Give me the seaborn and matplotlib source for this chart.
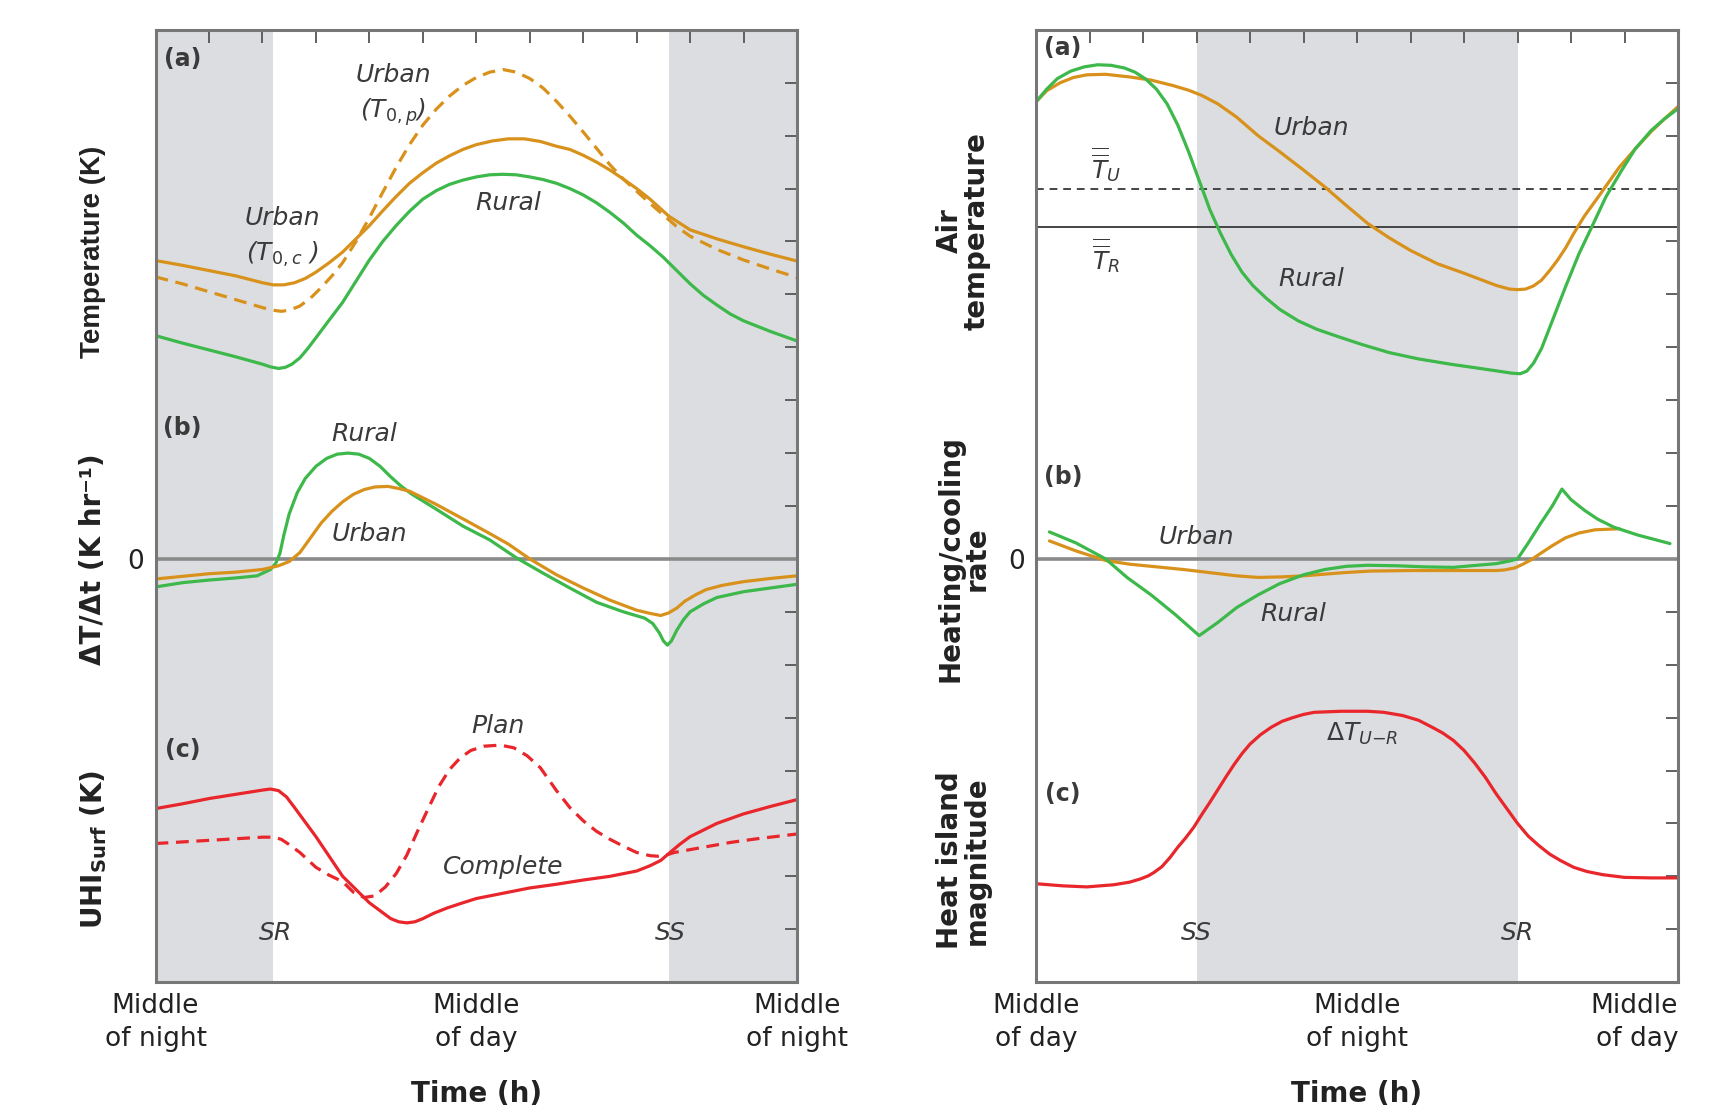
import matplotlib
matplotlib.use("Agg")
import matplotlib.pyplot as plt
import matplotlib.transforms as mtransforms
import seaborn as sns

# ---------------- left figure: surface UHI (night -> day -> night) ----------------
night_l = [(0, 4.4), (19.2, 24)]          # shaded night periods (h)

# (a) surface temperature
a_urb_c_h = [0, 1, 2, 3, 4, 4.4, 4.8, 5.2, 5.6, 6, 6.5, 7, 7.5, 8, 8.5, 9, 9.5, 10, 10.5, 11, 11.5, 12, 12.6, 13.2, 13.8, 14.4, 15, 15.5, 16, 16.5, 17, 17.5, 18, 18.5, 19.2, 20, 21, 22, 23, 24]
a_urb_c_v = [5.64, 5.55, 5.45, 5.35, 5.22, 5.18, 5.18, 5.22, 5.3, 5.42, 5.6, 5.8, 6.05, 6.3, 6.58, 6.85, 7.1, 7.3, 7.48, 7.62, 7.74, 7.83, 7.9, 7.94, 7.94, 7.89, 7.8, 7.74, 7.63, 7.5, 7.35, 7.18, 7.0, 6.8, 6.48, 6.22, 6.05, 5.9, 5.76, 5.63]
a_urb_p_h = [0, 1, 2, 3, 4, 4.4, 4.7, 5.0, 5.4, 5.8, 6.2, 6.6, 7, 7.5, 8, 8.5, 9, 9.5, 10, 10.5, 11, 11.5, 12, 12.5, 13, 13.5, 14, 14.5, 15, 15.5, 16, 16.5, 17, 17.5, 18, 18.5, 19, 19.5, 20, 21, 22, 23, 24]
a_urb_p_v = [5.33, 5.2, 5.05, 4.9, 4.75, 4.7, 4.68, 4.7, 4.78, 4.93, 5.13, 5.35, 5.6, 6.0, 6.45, 6.93, 7.4, 7.83, 8.2, 8.5, 8.75, 8.95, 9.1, 9.2, 9.25, 9.2, 9.08, 8.9, 8.65, 8.37, 8.07, 7.76, 7.45, 7.18, 6.95, 6.72, 6.5, 6.28, 6.1, 5.85, 5.65, 5.48, 5.32]
a_rur_h = [0, 1, 2, 3, 4, 4.3, 4.6, 4.85, 5.1, 5.4, 5.7, 6.0, 6.4, 7, 7.5, 8, 8.5, 9, 9.5, 10, 10.5, 11, 11.5, 12, 12.5, 13, 13.5, 14, 14.5, 15, 15.5, 16, 16.5, 17, 17.5, 18, 18.5, 19, 19.5, 20, 20.5, 21, 21.5, 22, 23, 24]
a_rur_v = [4.22, 4.08, 3.95, 3.82, 3.68, 3.63, 3.6, 3.62, 3.68, 3.8, 3.98, 4.18, 4.45, 4.85, 5.25, 5.65, 6.0, 6.3, 6.57, 6.8, 6.96, 7.08, 7.16, 7.22, 7.26, 7.27, 7.26, 7.22, 7.17, 7.1, 7.0, 6.88, 6.73, 6.55, 6.35, 6.12, 5.92, 5.7, 5.45, 5.2, 4.98, 4.8, 4.63, 4.5, 4.3, 4.12]

# (b) heating / cooling rate
b_rur_h = [0, 1, 2, 3, 3.8, 4.3, 4.5, 4.65, 4.8, 5.0, 5.3, 5.6, 6.0, 6.4, 6.8, 7.2, 7.6, 8.0, 8.4, 8.8, 9.2, 9.6, 10.5, 11.5, 12.5, 13.5, 14.5, 15.5, 16.5, 17.5, 18.3, 18.6, 18.85, 19.0, 19.15, 19.3, 19.5, 19.75, 20.0, 20.5, 21.0, 22.0, 23.0, 24]
b_rur_v = [-0.53, -0.45, -0.4, -0.36, -0.32, -0.2, -0.08, 0.1, 0.45, 0.85, 1.25, 1.52, 1.75, 1.9, 1.98, 2.0, 1.98, 1.9, 1.75, 1.55, 1.37, 1.22, 0.94, 0.62, 0.36, 0.02, -0.27, -0.55, -0.82, -1.0, -1.12, -1.22, -1.4, -1.55, -1.63, -1.55, -1.35, -1.15, -1.0, -0.85, -0.73, -0.62, -0.55, -0.48]
b_urb_h = [0, 1, 2, 3, 4, 4.6, 5.0, 5.4, 5.8, 6.2, 6.6, 7.0, 7.4, 7.8, 8.2, 8.7, 9.1, 9.5, 10.5, 11.6, 12.5, 13.2, 14.0, 15.0, 16.0, 17.0, 18.0, 18.5, 18.9, 19.2, 19.5, 19.8, 20.2, 20.6, 21.2, 22.0, 23.0, 24]
b_urb_v = [-0.38, -0.33, -0.28, -0.25, -0.2, -0.13, -0.05, 0.12, 0.4, 0.68, 0.9, 1.08, 1.22, 1.31, 1.36, 1.37, 1.33, 1.28, 1.03, 0.73, 0.48, 0.28, 0.0, -0.3, -0.55, -0.78, -0.97, -1.03, -1.07, -1.02, -0.93, -0.8, -0.68, -0.58, -0.5, -0.43, -0.37, -0.32]

# (c) surface UHI
c_cmp_h = [0, 1, 2, 3, 4, 4.3, 4.6, 4.9, 5.2, 6, 7, 8, 8.8, 9.1, 9.4, 9.7, 10, 10.4, 10.9, 11.5, 12, 13, 14, 15, 16, 17, 18, 18.5, 18.9, 19.2, 19.6, 20, 21, 22, 23, 24]
c_cmp_v = [-4.72, -4.63, -4.53, -4.45, -4.37, -4.35, -4.38, -4.5, -4.7, -5.25, -6.0, -6.5, -6.8, -6.86, -6.88, -6.86, -6.8, -6.7, -6.6, -6.5, -6.42, -6.32, -6.22, -6.15, -6.07, -6.0, -5.9, -5.8, -5.7, -5.57, -5.4, -5.25, -5.0, -4.82, -4.68, -4.55]
c_plan_h = [0, 1, 2, 3, 4, 4.4, 4.7, 5.0, 5.4, 6.0, 6.5, 7.0, 7.4, 7.8, 8.2, 8.6, 9.0, 9.4, 9.8, 10.2, 10.6, 11.0, 11.4, 11.8, 12.3, 12.9, 13.4, 13.9, 14.4, 15.0, 15.5, 16.0, 16.5, 17.0, 17.5, 18.0, 18.5, 18.8, 19.1, 19.4, 20.5, 21.5, 22.5, 24]
c_plan_v = [-5.38, -5.35, -5.32, -5.29, -5.26, -5.26, -5.3, -5.4, -5.55, -5.83, -5.98, -6.1, -6.3, -6.4, -6.37, -6.2, -5.95, -5.6, -5.15, -4.72, -4.3, -3.98, -3.76, -3.62, -3.54, -3.52, -3.57, -3.72, -3.95, -4.38, -4.7, -4.95, -5.15, -5.3, -5.43, -5.55, -5.61, -5.62, -5.6, -5.55, -5.45, -5.36, -5.29, -5.2]

# ---------------- right figure: canopy UHI (day -> night -> day) ----------------
night_r = [(6.0, 18.0)]
t_urban_mean = 7.0
t_rural_mean = 6.27

r_urb_h = [0, 0.4, 0.9, 1.4, 1.9, 2.6, 3.5, 4.3, 5.1, 5.7, 6.2, 6.8, 7.5, 8.3, 9.1, 10, 10.8, 11.6, 12.4, 13.2, 14, 15, 16, 17.2, 17.7, 18.0, 18.3, 18.6, 18.9, 19.2, 19.5, 19.8, 20.1, 20.5, 21.1, 21.8, 22.4, 23, 23.5, 24]
r_urb_v = [8.64, 8.85, 9.0, 9.1, 9.15, 9.16, 9.11, 9.05, 8.95, 8.86, 8.76, 8.6, 8.35, 8.0, 7.7, 7.35, 7.03, 6.68, 6.34, 6.07, 5.83, 5.58, 5.4, 5.17, 5.1, 5.09, 5.1, 5.16, 5.27, 5.45, 5.65, 5.88, 6.15, 6.48, 6.9, 7.4, 7.75, 8.08, 8.32, 8.55]
r_rur_h = [0, 0.4, 0.8, 1.3, 1.8, 2.3, 2.8, 3.3, 3.7, 4.1, 4.5, 4.9, 5.3, 5.7, 6.1, 6.5, 6.9, 7.3, 7.7, 8.1, 8.6, 9.1, 9.8, 10.5, 11.3, 12.2, 13.2, 14.3, 15.5, 16.6, 17.4, 17.8, 18.1, 18.35, 18.6, 18.9, 19.3, 19.8, 20.3, 20.8, 21.3, 21.9, 22.4, 23, 23.5, 24]
r_rur_v = [8.64, 8.88, 9.08, 9.22, 9.3, 9.34, 9.33, 9.28, 9.2, 9.07, 8.88, 8.6, 8.2, 7.7, 7.15, 6.6, 6.15, 5.75, 5.42, 5.17, 4.93, 4.72, 4.5, 4.34, 4.2, 4.05, 3.9, 3.78, 3.68, 3.6, 3.54, 3.51, 3.5, 3.55, 3.7, 3.98, 4.5, 5.15, 5.77, 6.3, 6.84, 7.35, 7.75, 8.1, 8.32, 8.51]

rb_rur_h = [0.5, 1.5, 2.6, 3.4, 4.3, 5.2, 6.1, 6.8, 7.5, 8.3, 9.1, 10, 10.8, 11.6, 12.4, 13.5, 14.5, 15.6, 16.5, 17.2, 17.7, 18.0, 18.4, 18.85, 19.3, 19.66, 20.0, 20.5, 21.0, 21.6, 22.5, 23.7]
rb_rur_v = [0.51, 0.3, 0.0, -0.35, -0.68, -1.05, -1.45, -1.2, -0.92, -0.68, -0.47, -0.3, -0.2, -0.14, -0.12, -0.13, -0.15, -0.16, -0.12, -0.09, -0.04, 0.0, 0.3, 0.66, 1.0, 1.32, 1.12, 0.92, 0.75, 0.6, 0.45, 0.29]
rb_urb_h = [0.5, 1.5, 2.6, 3.5, 4.5, 5.5, 6.5, 7.5, 8.3, 9.2, 10, 10.75, 11.5, 12.5, 14, 15.5, 17.2, 17.5, 17.9, 18.2, 18.5, 18.85, 19.3, 19.8, 20.3, 20.9, 21.8]
rb_urb_v = [0.34, 0.15, -0.03, -0.1, -0.15, -0.2, -0.26, -0.32, -0.35, -0.34, -0.32, -0.29, -0.26, -0.23, -0.22, -0.22, -0.22, -0.21, -0.17, -0.1, -0.02, 0.1, 0.25, 0.4, 0.49, 0.55, 0.57]

rc_h = [0, 1, 1.9, 2.9, 3.5, 3.9, 4.2, 4.4, 4.7, 5.0, 5.3, 5.6, 5.9, 6.2, 6.5, 6.8, 7.1, 7.4, 7.7, 8.0, 8.4, 8.8, 9.2, 9.6, 10.0, 10.4, 11.4, 12.4, 13, 13.7, 14.3, 14.8, 15.2, 15.6, 16.0, 16.4, 16.8, 17.2, 17.6, 18.0, 18.4, 18.8, 19.2, 19.6, 20.1, 20.6, 21.2, 22, 23, 24]
rc_v = [-6.14, -6.18, -6.2, -6.16, -6.11, -6.05, -5.99, -5.93, -5.82, -5.65, -5.45, -5.27, -5.07, -4.83, -4.6, -4.36, -4.12, -3.89, -3.68, -3.5, -3.32, -3.18, -3.07, -3.0, -2.94, -2.9, -2.88, -2.88, -2.9, -2.96, -3.05, -3.18, -3.29, -3.43, -3.62, -3.86, -4.13, -4.44, -4.72, -5.0, -5.24, -5.42, -5.58, -5.7, -5.83, -5.91, -5.97, -6.02, -6.03, -6.03]

xlabels_l = ["Middle\nof night", "Middle\nof day", "Middle\nof night"]
xlabels_r = ["Middle\nof day", "Middle\nof night", "Middle\nof day"]

ORANGE = "#D8921C"
GREEN = "#3DB84A"
RED = "#E8262B"
SHADE = "#DCDDE0"
TXT = "#3a3a3a"

sns.set_theme(style="white")
plt.rcParams["font.family"] = ["DejaVu Sans"]
plt.rcParams["mathtext.fontset"] = "dejavusans"

fig = plt.figure(figsize=(17.17, 11.06), dpi=100)
ax_l = fig.add_axes([0.0906, 0.112, 0.3736, 0.861])
ax_r = fig.add_axes([0.6034, 0.112, 0.3739, 0.861])


def curve(ax, h, v, color, dashed=False):
    sns.lineplot(x=h, y=v, ax=ax, color=color, lw=2.3, errorbar=None)
    line = ax.lines[-1]
    line.set_solid_joinstyle("round")
    if dashed:
        line.set_dashes((4, 2.4))


def style_axes(ax, night, xlabels):
    for lo, hi in night:
        ax.axvspan(lo, hi, color=SHADE, lw=0, zorder=0)
    ax.axhline(0, color="#8a8a8a", lw=2.6, zorder=1)
    ax.set_xlim(0, 24)
    ax.set_ylim(-8, 10)
    ax.set_xticks(range(0, 25, 2))
    xl = [""] * 13
    xl[0], xl[6], xl[12] = xlabels
    ax.set_xticklabels(xl, fontsize=19, color="#222", linespacing=1.35)
    ax.set_yticks(range(-7, 10))
    ax.set_yticklabels(["0" if t == 0 else "" for t in range(-7, 10)], fontsize=19, color="#222")
    ax.tick_params(axis="both", direction="in", top=True, right=True, length=9, width=1.3,
                   color="#555", pad=8)
    for s in ax.spines.values():
        s.set_color("#777")
        s.set_linewidth(2.2)
    ax.set_xlabel("Time (h)", fontsize=20, fontweight="bold", labelpad=20, color="#222")
    ax.set_ylabel("")


# ---- left ----
style_axes(ax_l, night_l, xlabels_l)
curve(ax_l, a_urb_p_h, a_urb_p_v, ORANGE, dashed=True)
curve(ax_l, a_urb_c_h, a_urb_c_v, ORANGE)
curve(ax_l, a_rur_h, a_rur_v, GREEN)
curve(ax_l, b_rur_h, b_rur_v, GREEN)
curve(ax_l, b_urb_h, b_urb_v, ORANGE)
curve(ax_l, c_plan_h, c_plan_v, RED, dashed=True)
curve(ax_l, c_cmp_h, c_cmp_v, RED)

lab = dict(fontsize=18, style="italic", color=TXT, ha="center", va="center")
pan = dict(fontsize=17, fontweight="bold", color=TXT, ha="center", va="center")
ax_l.text(1.0, 9.45, "(a)", **pan)
ax_l.text(1.0, 2.48, "(b)", **pan)
ax_l.text(1.0, -3.62, "(c)", **pan)
ax_l.text(8.9, 9.15, "Urban", **lab)
ax_l.text(8.9, 8.45, r"($T_{0,p}$)", **lab)
ax_l.text(4.75, 6.45, "Urban", **lab)
ax_l.text(4.75, 5.75, r"($T_{0,c}$ )", **lab)
ax_l.text(13.2, 6.73, "Rural", **lab)
ax_l.text(7.8, 2.36, "Rural", **lab)
ax_l.text(8.0, 0.48, "Urban", **lab)
ax_l.text(12.8, -3.15, "Plan", **lab)
ax_l.text(13.0, -5.82, "Complete", **lab)
ax_l.text(4.5, -7.08, "SR", **lab)
ax_l.text(19.25, -7.08, "SS", **lab)

ylab = dict(fontsize=20, fontweight="bold", color="#222", rotation=90, ha="center", va="center",
            linespacing=0.95)
tl = mtransforms.blended_transform_factory(ax_l.transAxes, ax_l.transData)
ax_l.text(-0.097, 5.8, "Temperature (K)", transform=tl, family=["Liberation Sans", "DejaVu Sans"], **ylab)
ax_l.text(-0.097, 0.0, "ΔT/Δt (K hr⁻¹)", transform=tl, **ylab)
ax_l.text(-0.097, -5.5, r"UHI$_{\mathbf{Surf}}$ (K)", transform=tl, **ylab)

# ---- right ----
style_axes(ax_r, night_r, xlabels_r)
ax_r.get_xticklabels()[-1].set_horizontalalignment("right")
ax_r.axhline(t_urban_mean, color="#444", lw=1.4, dashes=(4, 3), zorder=1)
ax_r.axhline(t_rural_mean, color="#444", lw=1.4, zorder=1)
curve(ax_r, r_urb_h, r_urb_v, ORANGE)
curve(ax_r, r_rur_h, r_rur_v, GREEN)
curve(ax_r, rb_urb_h, rb_urb_v, ORANGE)
curve(ax_r, rb_rur_h, rb_rur_v, GREEN)
curve(ax_r, rc_h, rc_v, RED)

ax_r.text(1.0, 9.65, "(a)", **pan)
ax_r.text(1.0, 1.55, "(b)", **pan)
ax_r.text(1.0, -4.45, "(c)", **pan)
ax_r.text(10.3, 8.15, "Urban", **lab)
ax_r.text(10.3, 5.3, "Rural", **lab)
ax_r.text(2.6, 7.45, r"$\overline{\overline{T}}_U$", **lab)
ax_r.text(2.6, 5.73, r"$\overline{\overline{T}}_R$", **lab)
ax_r.text(6.0, 0.41, "Urban", **lab)
ax_r.text(9.6, -1.04, "Rural", **lab)
ax_r.text(12.2, -3.31, r"$\Delta T_{U\mathrm{-}R}$", **lab)
ax_r.text(6.0, -7.08, "SS", **lab)
ax_r.text(18.0, -7.08, "SR", **lab)

tr = mtransforms.blended_transform_factory(ax_r.transAxes, ax_r.transData)
ax_r.text(-0.113, 6.2, "Air\ntemperature", transform=tr, **ylab)
ax_r.text(-0.113, 0.0, "Heating/cooling\nrate", transform=tr, **ylab)
ax_r.text(-0.113, -5.7, "Heat island\nmagnitude", transform=tr, **ylab)

fig.savefig("out.png", dpi=100)
